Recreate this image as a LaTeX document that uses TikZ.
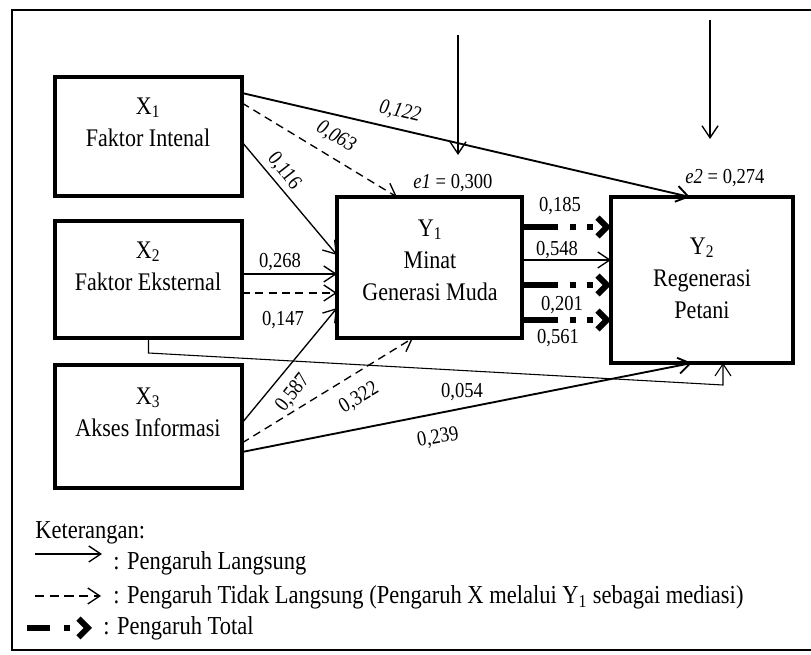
\documentclass[tikz,border=0pt]{standalone}
\usepackage{fontspec}
\setmainfont{Liberation Serif}[FakeStretch=0.87]
\usepackage{tikz}
\usetikzlibrary{calc}
\usetikzlibrary{fit, arrows.meta}

\newcommand{\boxfont}{\fontsize{19}{24}\selectfont}
\newcommand{\numfont}{\fontsize{16}{19}\selectfont}
\newcommand{\legfont}{\fontsize{19.4}{24}\selectfont}

\begin{document}
\begin{tikzpicture}[
    x=0.75pt, y=-0.75pt,
    box/.style={draw, line width=2.4pt, inner sep=0pt, outer sep=0pt},
    boxtext/.style={align=center, font=\boxfont},
    num/.style={font=\numfont, inner sep=1pt},
    legtext/.style={anchor=west, font=\legfont, inner sep=0pt},
    direct/.style={-{Straight Barb[length=9pt,width=12pt]}, line width=1pt},
    indirect/.style={direct, dash pattern=on 6pt off 4pt},
    total/.style={-{Straight Barb[length=7pt,width=14pt]}, line width=4.5pt,
        dash pattern=on 27pt off 9pt on 4.5pt off 8pt on 4.5pt off 30pt}
]
    \useasboundingbox (0,0) rectangle (811,655);

    % Frame
    \draw [line width=2.2pt] (815,10) -- (12,10) -- (12,650) -- (815,650);

    % Variable boxes
    \node (x1) [box, fit={(55,77) (242,196)}] {};
    \node (x2) [box, fit={(55,221) (242,338)}] {};
    \node (x3) [box, fit={(55,365) (242,488)}] {};
    \node (y1) [box, fit={(337,197) (522,338)}] {};
    \node (y2) [box, fit={(611,197) (793,363)}] {};

    \node (x1t) [boxtext] at (148,122) {X\textsubscript{1}\\Faktor Intenal};
    \node (x2t) [boxtext] at (148,266) {X\textsubscript{2}\\Faktor Eksternal};
    \node (x3t) [boxtext] at (148,412) {X\textsubscript{3}\\Akses Informasi};
    \node (y1t) [boxtext] at (430,260) {Y\textsubscript{1}\\Minat\\Generasi Muda};
    \node (y2t) [boxtext] at (702,278) {Y\textsubscript{2}\\Regenerasi\\Petani};

    % Residuals
    \coordinate (e1in) at (458,35);
    \coordinate (e1end) at (458,155);
    \coordinate (e2in) at (710,20);
    \coordinate (e2end) at (710,139);
    \draw [direct] (e1in) -- (e1end);
    \draw [direct] (e2in) -- (e2end);
    \node (e1) [num] at (453,183) {\textit{e1} = 0,300};
    \node (e2) [num] at (725,178) {\textit{e2} = 0,274};

    % From X1
    \draw [direct, line width=1.4pt] ($(x1.north east)+(0,16)$) -- ($(y2.north west)+(79,0)$);
    \draw [indirect] ($(x1.north east)+(0,26)$) -- ($(y1.north west)+(60,0)$);
    \draw [direct] ($(x1.north east)+(0,65)$) -- ($(y1.north west)+(0,58)$);

    % From X2
    \draw [direct] ($(x2.north east)+(0,53)$) coordinate (a268) -- (a268 -| y1.west);
    \draw [indirect] ($(x2.north east)+(0,72)$) coordinate (a147) -- (a147 -| y1.west);
    \coordinate (k054) at ($(y2.south west)+(112,22)$);
    \draw [direct, line width=0.8pt] (x2.south) -- ++(0,15) -- (k054) -- (k054 |- y2.south);

    % From X3
    \draw [direct] ($(x3.north east)+(0,58)$) -- ($(y1.north west)+(0,111)$);
    \draw [indirect] ($(x3.north east)+(0,78)$) -- ($(y1.south west)+(76,0)$);
    \draw [direct, line width=1.4pt] ($(x3.north east)+(0,87)$) -- ($(y2.south west)+(81,0)$);

    % From Y1 to Y2
    \draw [total] ($(y1.north east)+(0,30)$) coordinate (t185) -- (t185 -| y2.west);
    \draw [direct] ($(y1.north east)+(0,63)$) coordinate (d548) -- (d548 -| y2.west);
    \draw [total] ($(y1.north east)+(0,88)$) coordinate (t201) -- (t201 -| y2.west);
    \draw [total] ($(y1.north east)+(0,123)$) coordinate (t561) -- (t561 -| y2.west);

    % Path coefficients
    \node (l122) [num, rotate=-13] at (400,112) {\textit{0,122}};
    \node (l063) [num, rotate=-31] at (336,137) {\textit{0,063}};
    \node (l116) [num, rotate=-52] at (284,171) {0,116};
    \node (l268) [num] at (280,262) {0,268};
    \node (l147) [num] at (283,320) {0,147};
    \node (l587) [num, rotate=52] at (293,393) {0,587};
    \node (l322) [num, rotate=31] at (359,398) {0,322};
    \node (l239) [num, rotate=10] at (438,438) {0,239};
    \node (l054) [num] at (462,392) {0,054};
    \node (l185) [num] at (560,206) {0,185};
    \node (l548) [num] at (557,250) {0,548};
    \node (l201) [num] at (562,305) {0,201};
    \node (l561) [num] at (558,338) {0,561};

    % Legend
    \node (ket) [legtext] at (35,533) {Keterangan:};
    \coordinate (lg1a) at (35,554);
    \coordinate (lg1b) at (102,554);
    \draw [direct] (lg1a) -- (lg1b);
    \node (lg1) [legtext] at (113,563) {: Pengaruh Langsung};
    \coordinate (lg2a) at (35,596);
    \coordinate (lg2b) at (101,596);
    \draw [indirect, dash pattern=on 7pt off 4pt] (lg2a) -- (lg2b);
    \node (lg2) [legtext] at (113,597) {: Pengaruh Tidak Langsung (Pengaruh X melalui Y\textsubscript{1} sebagai mediasi)};
    \coordinate (lg3a) at (27,628);
    \coordinate (lg3b) at (92,628);
    \draw [total, dash pattern=on 17pt off 11pt on 4pt off 30pt] (lg3a) -- (lg3b);
    \node (lg3) [legtext] at (103,628) {: Pengaruh Total};

\end{tikzpicture}
\end{document}
